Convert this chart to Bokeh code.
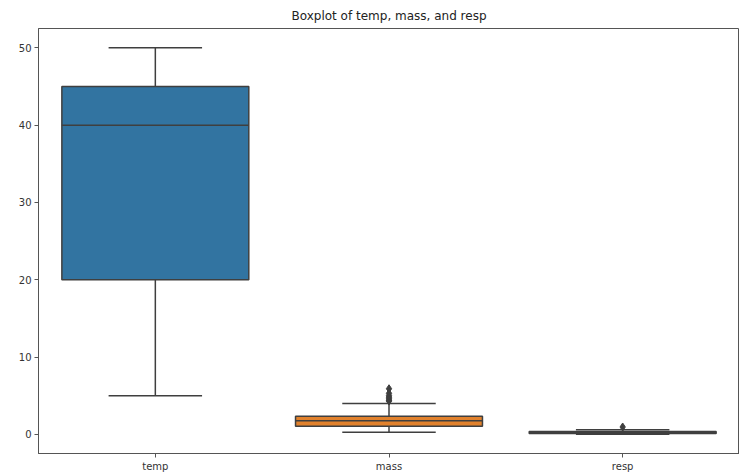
from bokeh.plotting import figure
from bokeh.models import ColumnDataSource, FixedTicker, Range1d
from bokeh.transform import dodge
from bokeh.embed import file_html
from bokeh.resources import INLINE

categories = ["temp", "mass", "resp"]
whisker_low = [5.0, 0.26, 0.02]
q1 = [20.0, 1.04, 0.12]
median = [40.0, 1.77, 0.22]
q3 = [45.0, 2.33, 0.35]
whisker_high = [50.0, 4.0, 0.6]
box_colors = ["#3274a1", "#e1812c", "#3a923a"]

outlier_cat = ["mass", "mass", "mass", "mass", "mass", "mass", "mass", "resp"]
outlier_val = [4.3, 4.4, 4.6, 4.8, 5.0, 5.3, 5.9, 0.95]

yticks = [0, 10, 20, 30, 40, 50]

GRAY = "#3f3f3f"

src = ColumnDataSource(dict(cat=categories, lo=whisker_low, q1=q1, med=median,
                            q3=q3, hi=whisker_high, color=box_colors))
osrc = ColumnDataSource(dict(cat=outlier_cat, val=outlier_val))

p = figure(width=739, height=474, x_range=categories, y_range=Range1d(-2.48, 52.5),
           output_backend="svg", toolbar_location=None,
           title="Boxplot of temp, mass, and resp",
           min_border_left=38, min_border_right=0, min_border_top=8, min_border_bottom=0)

p.title.align = "center"
p.title.text_font = "DejaVu Sans"
p.title.text_font_size = "12px"
p.title.text_font_style = "normal"
p.title.text_color = "#222222"
p.title.offset = 0
p.title.standoff = 6
p.title.padding = 3

p.xgrid.visible = False
p.ygrid.visible = False
p.outline_line_color = "#555555"
p.outline_line_width = 1
p.background_fill_color = "white"
p.border_fill_color = "white"

for ax in (p.xaxis[0], p.yaxis[0]):
    ax.axis_line_color = "#555555"
    ax.major_tick_line_color = "#555555"
    ax.major_tick_out = 4
    ax.major_tick_in = 0
    ax.minor_tick_out = 0
    ax.minor_tick_in = 0
    ax.major_label_text_font = "DejaVu Sans"
    ax.major_label_text_font_size = "10px"
    ax.major_label_text_color = "#333333"
    ax.major_label_standoff = 3
p.yaxis[0].ticker = FixedTicker(ticks=yticks)

# whiskers
p.segment(x0="cat", y0="lo", x1="cat", y1="q1", source=src, line_color=GRAY, line_width=1.5)
p.segment(x0="cat", y0="q3", x1="cat", y1="hi", source=src, line_color=GRAY, line_width=1.5)
# caps
p.segment(x0=dodge("cat", -0.2, range=p.x_range), y0="lo",
          x1=dodge("cat", 0.2, range=p.x_range), y1="lo",
          source=src, line_color=GRAY, line_width=1.5)
p.segment(x0=dodge("cat", -0.2, range=p.x_range), y0="hi",
          x1=dodge("cat", 0.2, range=p.x_range), y1="hi",
          source=src, line_color=GRAY, line_width=1.5)
# boxes
p.vbar(x="cat", width=0.8, bottom="q1", top="q3", source=src,
       fill_color="color", line_color=GRAY, line_width=1.5)
# medians
p.segment(x0=dodge("cat", -0.4, range=p.x_range), y0="med",
          x1=dodge("cat", 0.4, range=p.x_range), y1="med",
          source=src, line_color=GRAY, line_width=1.5)
# outliers
p.scatter(x="cat", y="val", source=osrc, marker="diamond", size=8,
          fill_color=GRAY, line_color=GRAY)

open("out.html", "w").write(file_html(p, INLINE))
